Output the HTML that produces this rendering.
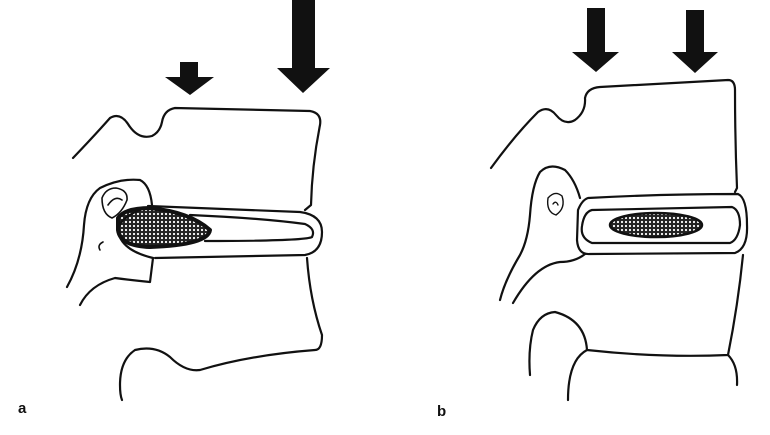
<!DOCTYPE html>
<html><head><style>body{margin:0;background:#fff}svg{display:block}</style></head><body>
<svg width="770" height="435" viewBox="0 0 770 435" xmlns="http://www.w3.org/2000/svg">
<defs>
<pattern id="dots" width="4" height="4" patternUnits="userSpaceOnUse"><rect width="4" height="4" fill="#222"/><circle cx="2" cy="2" r="1.1" fill="#fff"/></pattern>
</defs>
<g fill="#111">
<polygon points="180,62 198,62 198,77 214,77 190,95 165,77 180,77"/>
<polygon points="292,0 315,0 315,68 330,68 303,93 277,68 292,68"/>
<polygon points="587,8 605,8 605,52 619,52 596,72 572,52 587,52"/>
<polygon points="686,10 704,10 704,52 718,52 695,73 672,52 686,52"/>
</g>
<g fill="none" stroke="#111" stroke-width="2.2" stroke-linecap="round" stroke-linejoin="round">
<!-- LEFT figure a -->
<path d="M73,158 Q95,135 110,118 Q120,112 128,124 Q138,140 152,136 Q160,132 162,122 Q164,110 175,108 L310,111 Q322,113 320,125 Q312,165 311,205 L305,210"/>
<path d="M148,206 L300,212 Q322,215 322,232 Q322,252 305,255 L155,258"/>
<path d="M190,215 Q260,218 305,224 Q316,229 312,237 Q305,241 205,241"/>
<path d="M118,218 Q125,208 150,208 Q190,212 210,230 Q208,245 150,247 Q120,246 118,230 Z" fill="url(#dots)" stroke="#111" stroke-width="4"/>
<path d="M67,287 Q82,260 84,225 Q86,198 100,188 Q120,178 140,180 Q150,185 152,205"/>
<path d="M153,258 L150,282 Q130,280 115,278 Q90,285 80,305"/>
<path d="M152,206 Q120,215 118,230 Q120,250 153,258"/>
<path d="M307,258 Q310,300 322,335 Q322,350 315,350 Q250,355 200,370 Q185,372 170,357 Q155,345 135,350 Q120,360 120,385 Q120,395 122,400"/>
<path d="M102,198 Q106,188 116,188 Q128,190 127,200 Q122,213 112,218 Q102,214 102,198 Z M108,205 Q115,195 122,200" stroke-width="1.6"/>
<path d="M103,242 Q97,245 100,250" stroke-width="1.6"/>
<!-- RIGHT figure b -->
<path d="M491,168 Q515,135 538,112 Q548,105 556,115 Q565,126 575,120 Q586,112 585,98 Q587,88 600,87 L728,80 Q735,80 735,90 Q735,140 737,188 L735,192"/>
<path d="M588,198 Q582,200 578,210 L577,240 Q578,255 590,254 L735,253 Q748,248 747,225 Q747,198 738,194 Q660,194 588,198 Z"/>
<path d="M592,210 L732,207 Q740,210 740,225 Q738,240 730,243 L592,243 Q580,238 582,226 Q584,212 592,210 Z"/>
<ellipse cx="656" cy="225" rx="46" ry="12" fill="url(#dots)" stroke="#111" stroke-width="2.5"/>
<path d="M580,198 Q575,180 565,170 Q550,162 540,172 Q532,185 530,215 Q528,240 520,255 Q505,280 500,300"/>
<path d="M585,254 Q575,262 560,262 Q535,265 513,303"/>
<path d="M743,255 Q738,305 728,355 Q660,358 587,350 Q585,320 555,312 Q540,313 533,330 Q528,350 530,375"/>
<path d="M587,350 Q568,360 568,400"/>
<path d="M728,355 Q738,365 737,385"/>
<path d="M548,198 Q555,190 562,196 Q566,208 556,215 Q546,212 548,198 Z M553,204 Q556,200 558,205" stroke-width="1.4"/>
</g>
<g font-family="Liberation Sans, sans-serif" font-size="15" font-weight="bold" fill="#111">
<text x="18" y="413">a</text>
<text x="437" y="416">b</text>
</g>
</svg>
</body></html>
